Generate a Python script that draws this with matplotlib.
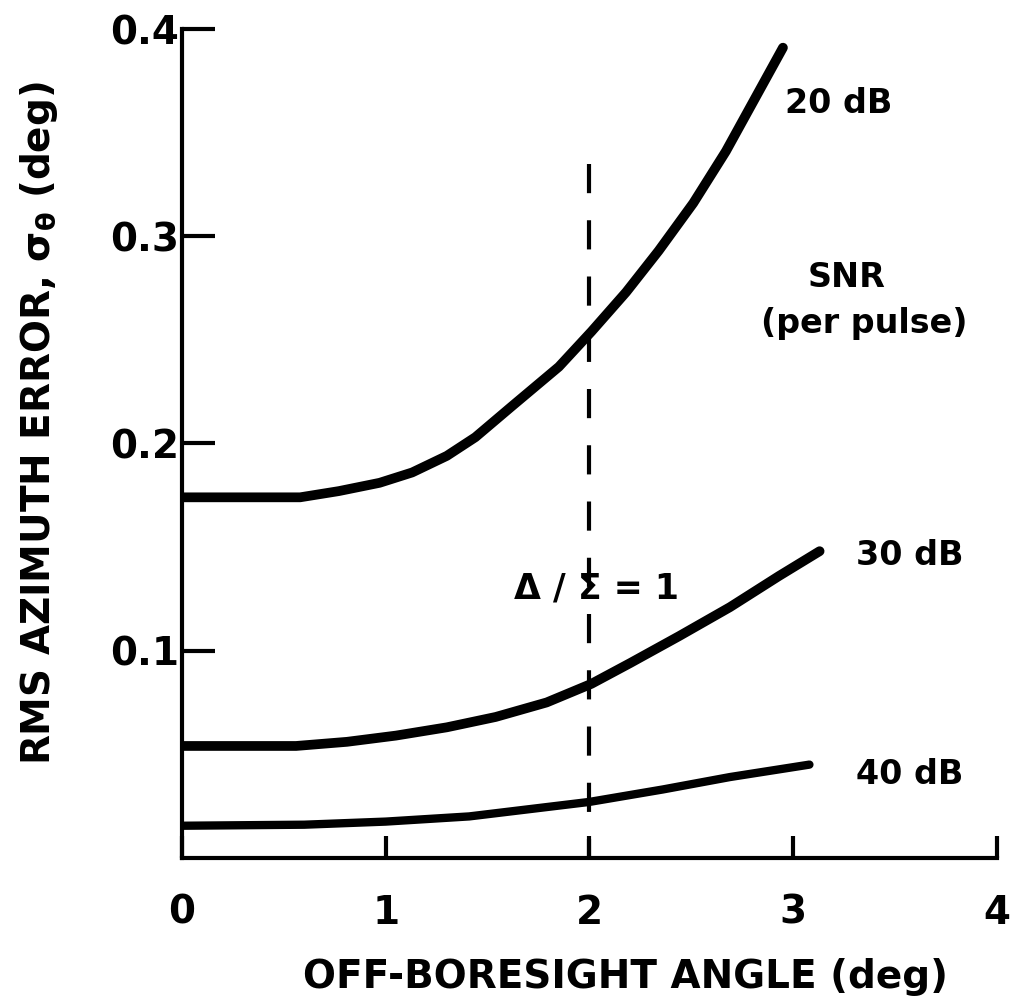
import matplotlib
matplotlib.use('Agg')
import matplotlib.pyplot as plt

# Данные
x20 = [0, 0.30, 0.58, 0.77, 0.97, 1.13, 1.30, 1.44, 1.62, 1.85, 2.01, 2.18, 2.34, 2.51, 2.67, 2.81, 2.95]
y20 = [0.174, 0.174, 0.174, 0.177, 0.181, 0.186, 0.194, 0.203, 0.218, 0.237, 0.254, 0.273, 0.293, 0.316, 0.341, 0.366, 0.391]
x30 = [0, 0.56, 0.81, 1.05, 1.30, 1.54, 1.79, 2.01, 2.20, 2.44, 2.69, 2.93, 3.13]
y30 = [0.054, 0.054, 0.056, 0.059, 0.063, 0.068, 0.075, 0.084, 0.094, 0.107, 0.121, 0.136, 0.148]
x40 = [0, 0.60, 1.00, 1.41, 2.00, 2.36, 2.69, 3.08]
y40 = [0.0155, 0.016, 0.0175, 0.020, 0.027, 0.033, 0.039, 0.045]
xticks = [0, 1, 2, 3, 4]
yticks = [0.1, 0.2, 0.3, 0.4]
ytick_labels = ['0.1', '0.2', '0.3', '0.4']

plt.rcParams['font.family'] = 'DejaVu Sans'
plt.rcParams['font.weight'] = 'bold'
plt.rcParams['axes.labelweight'] = 'bold'
plt.rcParams['mathtext.default'] = 'bf'

fig = plt.figure(figsize=(10.11, 10.01), dpi=100)
ax = fig.add_axes([0.180, 0.143, 0.806, 0.828])

# Кривые для разных SNR
ax.plot(x20, y20, color='black', lw=7, solid_capstyle='round', solid_joinstyle='round')
ax.plot(x30, y30, color='black', lw=7, solid_capstyle='round', solid_joinstyle='round')
ax.plot(x40, y40, color='black', lw=6, solid_capstyle='round', solid_joinstyle='round')
ax.plot([2, 2], [0.335, 0], color='black', lw=3, dashes=(7, 6.5))

ax.set_xlim(0, 4)
ax.set_ylim(0, 0.4)
ax.set_xticks(xticks)
ax.set_xticklabels([str(t) for t in xticks])
ax.set_yticks(yticks)
ax.set_yticklabels(ytick_labels)
ax.tick_params(axis='x', direction='in', length=16, width=3, labelsize=28, pad=26)
ax.tick_params(axis='y', direction='in', length=24, width=3, labelsize=28, pad=2)
for s in ['top', 'right']:
    ax.spines[s].set_visible(False)
for s in ['left', 'bottom']:
    ax.spines[s].set_linewidth(3)

ax.text(2.96, 0.364, '20 dB', fontsize=24, va='center')
ax.text(3.26, 0.280, 'SNR', fontsize=24, ha='center', va='center')
ax.text(3.35, 0.258, '(per pulse)', fontsize=24, ha='center', va='center')
ax.text(3.31, 0.146, '30 dB', fontsize=24, va='center')
ax.text(3.31, 0.040, '40 dB', fontsize=24, va='center')
ax.text(1.63, 0.130, 'Δ / Σ = 1', fontsize=25, va='center')

ax.set_xlabel('OFF-BORESIGHT ANGLE (deg)', fontsize=28)
ax.xaxis.set_label_coords(0.544, -0.121)
ax.set_ylabel(r'RMS AZIMUTH ERROR, $\sigma_\theta$ (deg)', fontsize=28)
ax.yaxis.set_label_coords(-0.150, 0.524)

fig.savefig('out.png', dpi=100)
